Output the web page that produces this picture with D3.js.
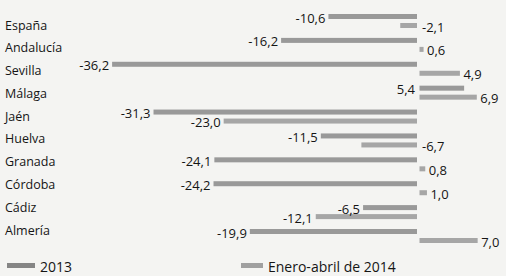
<!DOCTYPE html>
<html>
<head>
<meta charset="utf-8">
<script src="https://cdn.jsdelivr.net/npm/d3@7"></script>
<style>
  html, body { margin: 0; padding: 0; background: #f4f4f2; }
  svg { display: block; }
  text { font-family: "Open Sans", "Noto Sans", sans-serif; fill: #151515; }
</style>
</head>
<body>
<svg id="chart" width="506" height="276"></svg>
<script>
const categories = ["España", "Andalucía", "Sevilla", "Málaga", "Jaén", "Huelva", "Granada", "Córdoba", "Cádiz", "Almería"];
const values2013 = [-10.6, -16.2, -36.2, 5.4, -31.3, -11.5, -24.1, -24.2, -6.5, -19.9];
const values2014 = [-2.1, 0.6, 4.9, 6.9, -23.0, -6.7, 0.8, 1.0, -12.1, 7.0];
const seriesNames = ["2013", "Enero-abril de 2014"];

const W = 506, H = 276;
const svg = d3.select("#chart");
svg.append("rect").attr("width", W).attr("height", H).attr("fill", "#f4f4f2");

const x = d3.scaleLinear().domain([-40, 10]).range([80, 502.5]);
const yBar = d3.scalePoint().domain(categories).range([14, 229]);
const yLab = d3.scalePoint().domain(categories).range([25, 230]);
const color = d3.scaleOrdinal().domain(seriesNames).range(["#999999", "#a6a6a6"]);
const fmt = v => d3.format(".1f")(v).replace("−", "-").replace(".", ",");

const barH = 5;
const offsets = [0, 9];

const rows = categories.map((c, i) => ({ c, v: [values2013[i], values2014[i]] }));

// category labels
svg.append("g").selectAll("text").data(categories).join("text")
  .attr("x", 5).attr("y", d => yLab(d))
  .attr("dominant-baseline", "central")
  .attr("font-size", 12.5)
  .text(d => d);

const x0 = x(0);
const items = [];
rows.forEach(r => {
  r.v.forEach((v, s) => items.push({ c: r.c, v, s, name: seriesNames[s] }));
});

// bars
svg.append("g").selectAll("rect").data(items).join("rect")
  .attr("x", d => d.v < 0 ? x(d.v) : x0 + 1.5)
  .attr("width", d => Math.max(1, Math.abs(x(d.v) - x0) - 1))
  .attr("y", d => yBar(d.c) + offsets[d.s])
  .attr("height", barH)
  .attr("fill", d => color(d.name));

// value labels
function labelPos(d) {
  if (d.s === 0) {
    const left = Math.min(x(d.v), x0);
    return { x: left - 3, anchor: "end" };
  } else {
    if (d.v < -10) return { x: x(d.v) - 3, anchor: "end" };
    const right = Math.max(x(d.v), x0);
    return { x: right + 4, anchor: "start" };
  }
}
svg.append("g").selectAll("text").data(items).join("text")
  .attr("x", d => labelPos(d).x)
  .attr("text-anchor", d => labelPos(d).anchor)
  .attr("y", d => yBar(d.c) + offsets[d.s] + barH / 2 + 1)
  .attr("dominant-baseline", "central")
  .attr("font-size", 13)
  .text(d => fmt(d.v));

// legend
const legend = svg.append("g");
const legendX = [7, 241];
seriesNames.forEach((name, i) => {
  legend.append("rect").attr("x", legendX[i]).attr("y", 263)
    .attr("width", i === 0 ? 28 : 22).attr("height", 5)
    .attr("fill", i === 0 ? "#858585" : "#a0a0a0");
  legend.append("text").attr("x", legendX[i] + (i === 0 ? 33 : 27)).attr("y", 266)
    .attr("dominant-baseline", "central")
    .attr("font-size", 14)
    .text(name);
});
</script>
</body>
</html>
